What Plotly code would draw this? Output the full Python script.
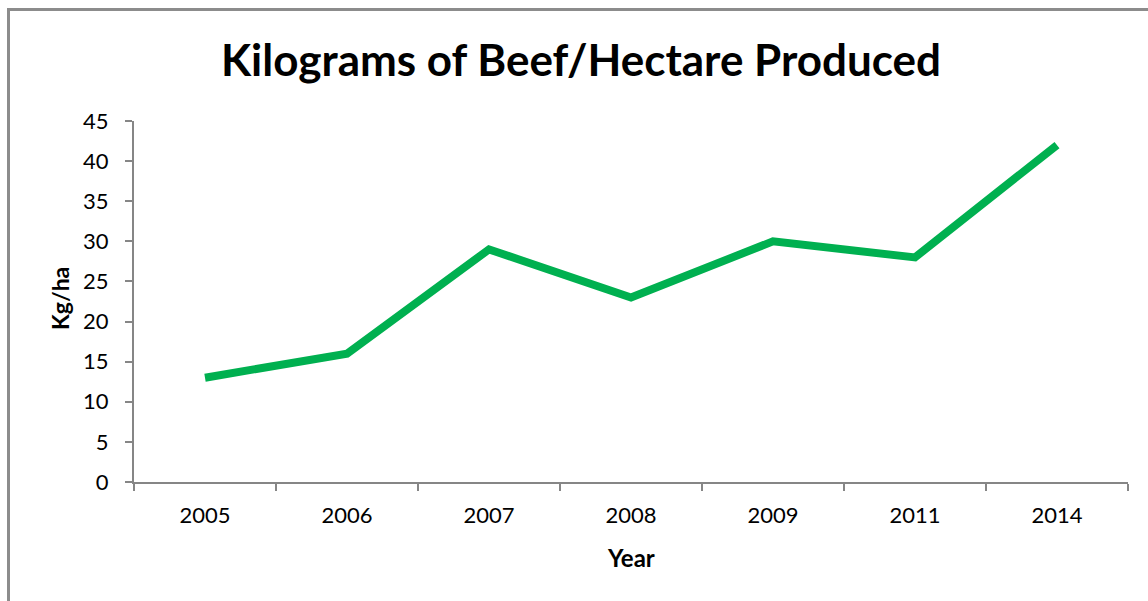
import plotly.graph_objects as go

# Beef output per hectare by year
years = ["2005", "2006", "2007", "2008", "2009", "2011", "2014"]
kg_per_ha = [13, 16, 29, 23, 30, 28, 42]

title_text = "Kilograms of Beef/Hectare Produced"
y_title = "Kg/ha"
x_title = "Year"

FONT = "Lato"
AXIS_GREY = "#868686"
W, H = 1148, 601
L, R, T, B = 134, 20, 121, 119
plot_w = W - L - R
plot_h = H - T - B

fig = go.Figure()
fig.add_trace(go.Scatter(
    x=years, y=kg_per_ha, mode="lines",
    line=dict(color="#00B050", width=8),
    hoverinfo="x+y",
))

fig.update_layout(
    width=W, height=H,
    margin=dict(l=L, r=R, t=T, b=B),
    paper_bgcolor="white", plot_bgcolor="white",
    showlegend=False,
    font=dict(family=FONT, color="black", size=22),
    title=dict(
        text=f"<b>{title_text}</b>",
        x=581 / W, xref="container", xanchor="center",
        y=1 - 61 / H, yref="container", yanchor="middle",
        font=dict(family=FONT, size=44, color="black"),
    ),
    xaxis=dict(
        type="category", range=[-0.5, len(years) - 0.5],
        showline=True, linecolor=AXIS_GREY, linewidth=2,
        ticks="outside", tickson="boundaries", ticklen=7,
        tickcolor=AXIS_GREY, tickwidth=2,
        showgrid=False, zeroline=False,
        tickfont=dict(family=FONT, size=22, color="black"),
        ticklabelstandoff=13,
    ),
    yaxis=dict(
        range=[0, 45], dtick=5, tick0=0,
        showline=True, linecolor=AXIS_GREY, linewidth=2,
        ticks="outside", ticklen=7, tickcolor=AXIS_GREY, tickwidth=2,
        showgrid=False, zeroline=False,
        tickfont=dict(family=FONT, size=22, color="black"),
        ticklabelstandoff=12,
    ),
    annotations=[
        dict(text=f"<b>{y_title}</b>", xref="paper", yref="paper",
             x=(60 - L) / plot_w, y=(482 - 299) / plot_h, textangle=-90,
             showarrow=False, xanchor="center", yanchor="middle",
             font=dict(family=FONT, size=23, color="black")),
        dict(text=f"<b>{x_title}</b>", xref="paper", yref="paper",
             x=(631 - L) / plot_w, y=(482 - 557) / plot_h,
             showarrow=False, xanchor="center", yanchor="middle",
             font=dict(family=FONT, size=24, color="black")),
    ],
    shapes=[
        # chart frame
        dict(type="rect", xref="paper", yref="paper",
             x0=(8.5 - L) / plot_w, x1=(W + 20 - L) / plot_w,
             y0=(482 - (H + 20)) / plot_h, y1=(482 - 9.5) / plot_h,
             line=dict(color="#8C8C8C", width=3), layer="below"),
    ],
)

fig.write_html("out.html")
